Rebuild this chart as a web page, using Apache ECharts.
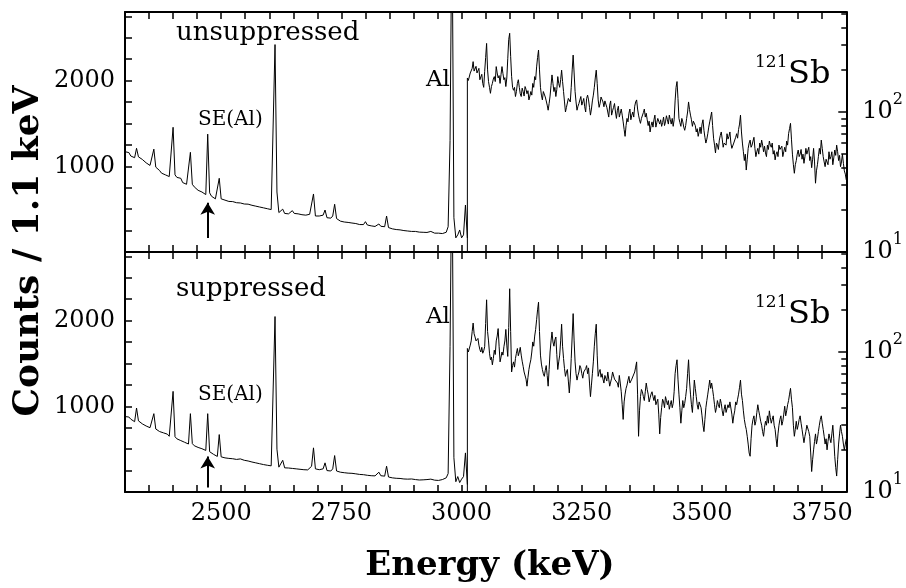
<!DOCTYPE html>
<html><head><meta charset="utf-8">
<script src="https://cdn.jsdelivr.net/npm/echarts@6/dist/echarts.min.js"></script>
<style>html,body{margin:0;padding:0;background:#fff}#c{width:906px;height:588px}</style>
</head><body><div id="c"></div><script>
// ---- data ----
const energyMin = 2300, energyMax = 3800, linearStep = 4, logStep = 2, splitEnergy = 3012;
const xLabelValues = [2500, 2750, 3000, 3250, 3500, 3750];
const linearLabelValues = [1000, 2000];
const logMajorTicks = [10, 100];
const logMinorTicks = [20, 30, 40, 50, 60, 70, 80, 90, 200, 300, 400, 500];
const panelTitles = ['unsuppressed', 'suppressed'];
// counts, 2300..3012 keV step 4 (linear scale, left axis)
const topLinear = [1170,1150,1160,1120,1130,1100,1210,1110,1090,1080,
 1060,1040,1050,1010,1000,1200,990,1000,950,920,
 930,900,910,880,890,1455,900,870,850,860,
 810,830,790,800,1163,790,760,770,720,740,
 700,690,670,1375,690,650,640,620,610,860,
 620,600,605,595,590,585,588,580,575,570,
 572,565,560,555,558,550,545,540,535,530,
 525,520,515,510,505,500,495,510,2420,700,
 460,455,500,450,455,445,460,482,450,440,
 445,430,435,420,430,412,440,450,677,420,
 405,420,400,430,490,400,410,395,420,557,
 390,370,360,355,350,342,345,335,338,330,
 332,325,320,318,320,354,315,310,305,300,
 298,300,327,300,290,295,420,285,276,270,
 272,262,265,258,255,250,252,245,248,240,
 237,240,235,232,236,230,232,228,235,240,
 225,220,215,220,210,215,205,230,295,1300,
 4000,400,165,200,257,165,200,548,163];
const bottomLinear = [880,865,875,850,845,820,980,830,810,795,
 790,770,775,750,745,914,735,725,705,715,
 690,670,675,650,645,1174,645,620,615,600,
 595,580,575,560,914,565,540,535,520,515,
 505,490,485,914,470,455,440,435,415,670,
 410,400,398,395,392,390,388,385,380,378,
 386,375,370,365,362,355,350,345,340,335,
 330,325,320,318,312,308,305,320,2047,500,
 290,282,370,282,285,280,300,275,290,270,
 285,265,270,260,275,258,270,300,515,270,
 255,260,250,270,340,250,255,245,270,425,
 245,235,231,228,225,222,220,215,218,210,
 212,205,205,200,202,198,195,192,190,185,
 188,190,231,190,180,185,301,175,170,165,
 168,160,162,158,155,152,155,150,148,152,
 146,145,148,140,145,142,138,145,140,150,
 145,138,142,135,140,145,150,165,215,1700,
 4000,400,120,180,110,150,180,456,87];
// counts, 3012..3800 keV step 2 (log scale, right axis)
const jumpFoot = [10, 10];
const topLog = [175,168,172,190,185,205,229,196,200,212,
 190,184,205,170,178,186,160,150,195,245,
 309,200,165,150,136,152,160,172,179,165,
 211,190,175,182,160,185,211,188,170,176,
 152,175,240,330,365,250,180,150,143,150,
 129,140,160,170,150,135,129,148,140,130,
 152,145,135,142,122,130,140,132,160,150,
 179,170,210,245,277,200,150,132,122,140,
 136,128,120,112,103,115,130,155,184,160,
 140,150,129,145,179,160,150,170,199,165,
 140,118,100,108,110,125,122,118,150,200,
 255,190,140,118,103,110,115,122,129,112,
 118,125,109,100,125,132,122,108,95,105,
 120,132,150,175,199,160,122,108,115,128,
 125,118,109,120,118,108,100,92,112,120,
 95,102,108,115,100,90,103,110,92,98,
 105,95,85,75,67,80,90,85,98,105,
 88,95,100,92,110,118,122,105,95,88,
 83,90,92,99,105,92,98,88,80,86,
 72,80,85,78,88,95,78,84,90,86,
 82,88,79,84,92,80,85,94,88,82,
 95,88,82,90,79,88,120,150,165,125,
 90,84,79,90,85,78,74,80,90,100,
 118,104,95,88,79,86,85,80,72,76,
 67,72,78,70,82,88,74,66,60,64,
 70,78,85,92,100,80,65,58,51,60,
 58,54,63,68,72,64,56,60,62,58,
 70,64,67,72,60,55,56,60,62,66,
 70,65,75,82,95,72,60,52,45,50,
 38.5,46,55,60,63,56,58,62,66,55,
 48,52,55,50,60,56,63,58,52,57,
 51,48,58,54,62,58,56,60,50,53,
 45.5,50,52,48,58,54,53.5,57,48,52,
 56,52,62,58,70,76,83,64,50,42,
 36.5,42,45,50,53.5,48,50,54,46,50,
 43,48,55,50,51,56,45,48,40,46,
 55,44,31,38,42,48,55,50,63,55,
 48,44,40.7,46,45,42,52,46,48,52,
 42,47,53.5,49,58,52,45,49,40.7,44,
 50,43,38,36,32.7];
const bottomLog = [106,100,103,112,120,140,161,135,128,120,
 118,125,112,104,100,108,98,102,109,160,
 236,140,120,98,88,92,81,90,103,96,
 120,130,147,110,85,92,100,95,109,120,
 145,112,93,150,283,140,72,80,85,78,
 90,98,106,94,100,108,95,86,79,72,
 70,64,57,66,75,82,88,100,118,110,
 130,145,170,200,227,140,95,82,75,70,
 67,74,80,68,57,75,100,120,139,118,
 110,122,128,96,75,85,95,120,158,110,
 90,76,67,72,75,62,51,64,90,130,
 188,120,85,70,63,68,72,80,77,70,
 65,72,70,76,80,70,77,60,48,58,
 70,85,110,135,158,95,67,72,75,66,
 70,64,60,68,66,62,72,64,57,61,
 65,72,70,64,62,66,60,56,68,60,
 52,42,33,44,50,55,58,63,67,60,
 60,64,66,62,72,78,85,50,25,38,
 48,54,52,48,45,52,60,54,50,44,
 47,50,52,48,45,49,42,44,46,36,
 26,34,40,46,44,40,48,45,42,45,
 39,42,45,40,43,52,70,80,88,64,
 50,40,31,38,45,40,43,48,55,70,
 88,62,50,42,37,48,63,55,48,42,
 39,44,45,40,35,30,27,33,40,45,
 50,56,63,55,60,54,48,42,37,40,
 45,42,40,46,43,38,35,39,42,37,
 38,42,40,44,45,36,31,35,38,44,
 42,46,50,56,63,50,45,38,33,30,
 28,25,22,19,18,24,30,33,35,30,
 32,37,42,38,35,32,30,27,25,29,
 32,30,35,31,38,34,31,33,35,30,
 28,24,21,26,30,33,35,30,32,36,
 41,35,38,42,45,50,55,46,40,30,
 25,28,32,28,30,33,35,31,28,25,
 22.5,25,27,30,31,27,25,19,14,17,
 20,23,26,22,24,27,30,33,35,31,
 28,25,22,24,20,23,26,24,22.5,26,
 30,24,18,15,13,17,22,26,30,27,
 25,22,20,22,24];
// SE(Al) arrow: energy, [tail, head] counts per panel
const arrowEnergy = 2472;
const arrowTop = [163, 575];
const arrowBottom = [52, 413];

// ---- chart ----
const serif = '"DejaVu Serif", serif';
const black = '#000';
const linData = arr => arr.map((v, i) => [energyMin + linearStep * i, v]);
const logData = (arr, foot) => [[splitEnergy, foot]].concat(arr.map((v, k) => [splitEnergy + logStep * k, v]));

const grids = [
  {left: 125, top: 12, width: 724, height: 240},
  {left: 125, top: 252, width: 724, height: 240}
];
function xAx(g, pos, labels) {
  return {type: 'value', gridIndex: g, position: pos, min: energyMin, max: energyMax, interval: 50,
    axisLine: {show: true, onZero: false, lineStyle: {color: black, width: 2}},
    axisTick: {show: true, inside: true, length: 7, lineStyle: {color: black, width: 1.5}},
    axisLabel: {show: labels, margin: 10, color: black, fontFamily: serif, fontSize: 24,
      formatter: v => (xLabelValues.indexOf(v) >= 0 ? String(v) : '')},
    splitLine: {show: false}};
}
function yLin(g) {
  return {type: 'value', gridIndex: g, position: 'left', min: 0, max: 2800, interval: 250,
    axisLine: {show: true, onZero: false, lineStyle: {color: black, width: 2}},
    axisTick: {show: true, inside: true, length: 7, lineStyle: {color: black, width: 1.5}},
    axisLabel: {margin: 10, color: black, fontFamily: serif, fontSize: 24,
      formatter: v => (linearLabelValues.indexOf(v) >= 0 ? String(v) : '')},
    splitLine: {show: false}};
}
function yLog(g, major) {
  return {type: 'log', logBase: 10, gridIndex: g, position: 'right', min: 10, max: 518,
    axisLine: {show: major, onZero: false, lineStyle: {color: black, width: 2}},
    axisTick: {show: true, inside: true, length: major ? 8 : 5, customValues: major ? logMajorTicks : logMinorTicks,
      lineStyle: {color: black, width: 1.5}},
    axisLabel: {show: major, customValues: logMajorTicks, margin: 16, padding: [0, 0, 8, 0],
      formatter: v => '{b|10}{s|' + Math.round(Math.log10(v)) + '}',
      rich: {b: {fontFamily: serif, fontSize: 24, color: black, verticalAlign: 'bottom', padding: [8, 0, 0, 0]},
             s: {fontFamily: serif, fontSize: 16, color: black, verticalAlign: 'top'}}},
    splitLine: {show: false}, minorTick: {show: false}};
}
const lineStyle = {color: black, width: 1};
function arrowMark(pair) {
  return {silent: true, symbol: ['none', 'arrow'], symbolSize: [11, 12], animation: false,
    lineStyle: {color: black, width: 2, type: 'solid'}, label: {show: false},
    data: [[{coord: [arrowEnergy, pair[0]]}, {coord: [arrowEnergy, pair[1]]}]]};
}
const series = [
  {type: 'line', xAxisIndex: 0, yAxisIndex: 0, data: linData(topLinear), symbol: 'none', lineStyle, markLine: arrowMark(arrowTop)},
  {type: 'line', xAxisIndex: 0, yAxisIndex: 1, data: logData(topLog, jumpFoot[0]), symbol: 'none', lineStyle},
  {type: 'line', xAxisIndex: 2, yAxisIndex: 3, data: linData(bottomLinear), symbol: 'none', lineStyle, markLine: arrowMark(arrowBottom)},
  {type: 'line', xAxisIndex: 2, yAxisIndex: 4, data: logData(bottomLog, jumpFoot[1]), symbol: 'none', lineStyle}
];
function txt(x, y, text, font, align) {
  return {type: 'text', x, y, silent: true, style: {text, font, fill: black,
    align: align || 'left', verticalAlign: 'middle', textAlign: align || 'left', textVerticalAlign: 'middle'}};
}
const graphics = [
  txt(176, 33, panelTitles[0], '26px ' + serif),
  txt(176, 289, panelTitles[1], '26px ' + serif),
  txt(198, 120, 'SE(Al)', '20px ' + serif),
  txt(198, 395, 'SE(Al)', '20px ' + serif),
  txt(426, 80, 'Al', '23px ' + serif),
  txt(426, 317, 'Al', '23px ' + serif),
  txt(755, 63, '121', '17px ' + serif),
  txt(788, 75, 'Sb', '32px ' + serif),
  txt(755, 303, '121', '17px ' + serif),
  txt(788, 315, 'Sb', '32px ' + serif),
  {type: 'text', x: 29, y: 251, rotation: Math.PI / 2, silent: true,
   style: {text: 'Counts / 1.1 keV', font: 'bold 36px ' + serif, fill: black, align: 'center', verticalAlign: 'middle', textAlign: 'center', textVerticalAlign: 'middle'}},
  txt(490, 566, 'Energy (keV)', 'bold 34px ' + serif, 'center')
];
const chart = echarts.init(document.getElementById('c'), null, {renderer: 'canvas'});
chart.setOption({
  animation: false,
  backgroundColor: '#fff',
  grid: grids,
  xAxis: [xAx(0, 'bottom', false), xAx(0, 'top', false), xAx(1, 'bottom', true), xAx(1, 'top', false)],
  yAxis: [yLin(0), yLog(0, true), yLog(0, false), yLin(1), yLog(1, true), yLog(1, false)],
  series,
  graphic: graphics
});
</script></body></html>
